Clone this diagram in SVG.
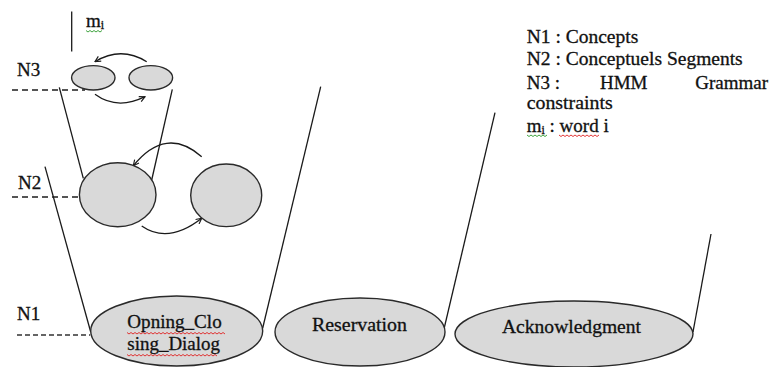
<svg xmlns="http://www.w3.org/2000/svg" width="772" height="367" viewBox="0 0 772 367">
<style>
  text { font-family: "Liberation Serif", "Times New Roman", serif; fill: #111; stroke: #111; stroke-width: 0.3; }
  .lbl { font-size: 19px; }
  .sub { font-size: 12px; }
  .node { fill: #d9d9d9; stroke: #2a2a2a; stroke-width: 1.4; }
  .ln { stroke: #1a1a1a; stroke-width: 1.3; fill: none; }
  .arc { stroke: #1a1a1a; stroke-width: 1.3; fill: none; marker-end: url(#arr); }
  .dashg { stroke: #555; stroke-width: 2; stroke-dasharray: 6 4; fill: none; }
  .dashk { stroke: #333; stroke-width: 1.3; stroke-dasharray: 5 3; fill: none; }
  .sqr { stroke: #e02020; stroke-width: 0.9; fill: none; }
  .sqg { stroke: #2a9a2a; stroke-width: 0.9; fill: none; }
</style>
<defs>
  <marker id="arr" viewBox="0 0 10 10" refX="9" refY="5" markerWidth="7" markerHeight="7" markerUnits="userSpaceOnUse" orient="auto">
    <path d="M1,1 L9,5 L1,9" fill="none" stroke="#1a1a1a" stroke-width="1.6"/>
  </marker>
</defs>

<rect width="772" height="367" fill="#ffffff"/>

<!-- level labels and dashed level lines -->
<g id="levels">
  <text class="lbl" x="17" y="76">N3</text>
  <text class="lbl" x="18" y="189">N2</text>
  <text class="lbl" x="17" y="320">N1</text>
  <line class="dashg" x1="12" y1="90" x2="85" y2="90"/>
  <line class="dashg" x1="12" y1="197" x2="85" y2="197"/>
  <line class="dashk" x1="17" y1="335" x2="90" y2="335"/>
</g>

<!-- word marker m_i -->
<g id="word-marker">
  <line class="ln" x1="71.7" y1="11.5" x2="71.7" y2="51.5"/>
  <text class="lbl" x="86" y="27">m<tspan class="sub" dy="2">i</tspan></text>
  <path class="sqg" d="M86,30.5 l2,1.5 l2,-1.5 l2,1.5 l2,-1.5 l2,1.5 l2,-1.5 l2,1.5 l2,-1.5"/>
</g>

<!-- connectors: funnel lines and transition arcs -->
<g id="connectors">
  <line class="ln" x1="59.3" y1="87.3" x2="83.3" y2="178.3"/>
  <line class="ln" x1="172.3" y1="89.3" x2="151.7" y2="180"/>
  <line class="ln" x1="45" y1="166.7" x2="90.7" y2="332"/>
  <line class="ln" x1="320.7" y1="86.7" x2="262.7" y2="328"/>
  <line class="ln" x1="495" y1="112.7" x2="444" y2="329"/>
  <line class="ln" x1="711" y1="234" x2="693" y2="332"/>
  <path class="arc" d="M146.7,61.7 Q121,45.8 95,61.7"/>
  <path class="arc" d="M95,94.3 Q117,110.5 145,96.7"/>
  <path class="arc" d="M201.7,156.7 Q165.9,125.4 133.3,165.7"/>
  <path class="arc" d="M141.7,226 Q168.3,244.5 201.7,218.3"/>
</g>

<!-- N3 states -->
<g id="n3-state-1"><ellipse class="node" cx="93.3" cy="77.8" rx="21.7" ry="12.2"/></g>
<g id="n3-state-2"><ellipse class="node" cx="150.8" cy="77.8" rx="21.8" ry="12.2"/></g>

<!-- N2 segments -->
<g id="n2-segment-1"><ellipse class="node" cx="117.7" cy="194.7" rx="38.3" ry="32"/></g>
<g id="n2-segment-2"><ellipse class="node" cx="226.2" cy="195.3" rx="35.5" ry="31.3"/></g>

<!-- N1 concepts -->
<g id="concept-opening-closing">
  <ellipse class="node" cx="176.7" cy="331" rx="86" ry="35"/>
  <text class="lbl" x="127.3" y="328" textLength="94.4" lengthAdjust="spacingAndGlyphs">Opning_Clo</text>
  <text class="lbl" x="127.3" y="350" textLength="92.7" lengthAdjust="spacingAndGlyphs">sing_Dialog</text>
  <path class="sqr" d="M127,332.5 l2,1.5 l2,-1.5 l2,1.5 l2,-1.5 l2,1.5 l2,-1.5 l2,1.5 l2,-1.5 l2,1.5 l2,-1.5 l2,1.5 l2,-1.5 l2,1.5 l2,-1.5 l2,1.5 l2,-1.5 l2,1.5 l2,-1.5 l2,1.5 l2,-1.5 l2,1.5 l2,-1.5 l2,1.5 l2,-1.5 l2,1.5 l2,-1.5 l2,1.5 l2,-1.5 l2,1.5 l2,-1.5 l2,1.5 l2,-1.5 l2,1.5 l2,-1.5 l2,1.5 l2,-1.5 l2,1.5 l2,-1.5 l2,1.5 l2,-1.5 l2,1.5 l2,-1.5 l2,1.5 l2,-1.5 l2,1.5 l2,-1.5 l2,1.5 l2,-1.5 l2,1.5"/>
  <path class="sqr" d="M127,354.5 l2,1.5 l2,-1.5 l2,1.5 l2,-1.5 l2,1.5 l2,-1.5 l2,1.5 l2,-1.5 l2,1.5 l2,-1.5 l2,1.5 l2,-1.5 l2,1.5 l2,-1.5 l2,1.5 l2,-1.5 l2,1.5 l2,-1.5 l2,1.5 l2,-1.5 l2,1.5 l2,-1.5 l2,1.5 l2,-1.5 l2,1.5 l2,-1.5 l2,1.5 l2,-1.5 l2,1.5 l2,-1.5 l2,1.5 l2,-1.5 l2,1.5 l2,-1.5 l2,1.5 l2,-1.5 l2,1.5 l2,-1.5 l2,1.5 l2,-1.5 l2,1.5 l2,-1.5 l2,1.5 l2,-1.5 l2,1.5"/>
</g>
<g id="concept-reservation">
  <ellipse class="node" cx="360" cy="332" rx="85" ry="34"/>
  <text class="lbl" x="312" y="331" textLength="95" lengthAdjust="spacingAndGlyphs">Reservation</text>
</g>
<g id="concept-acknowledgment">
  <ellipse class="node" cx="574" cy="334" rx="119" ry="33"/>
  <text class="lbl" x="502" y="333" textLength="139" lengthAdjust="spacingAndGlyphs">Acknowledgment</text>
</g>

<!-- legend -->
<g id="legend">
  <text class="lbl" x="526.7" y="43.3" textLength="111.6" lengthAdjust="spacingAndGlyphs">N1 : Concepts</text>
  <text class="lbl" x="526.7" y="65" textLength="216" lengthAdjust="spacingAndGlyphs">N2 : Conceptuels Segments</text>
  <text class="lbl" x="526.7" y="88.5">N3 :</text>
  <text class="lbl" x="600" y="88.5">HMM</text>
  <text class="lbl" x="768" y="88.5" text-anchor="end">Grammar</text>
  <text class="lbl" x="526.7" y="109" textLength="86" lengthAdjust="spacingAndGlyphs">constraints</text>
  <text class="lbl" x="526.7" y="131.7">m<tspan class="sub" dy="2">i</tspan><tspan dy="-2"> : word i</tspan></text>
  <path class="sqg" d="M527,135 l2,1.5 l2,-1.5 l2,1.5 l2,-1.5 l2,1.5 l2,-1.5 l2,1.5 l2,-1.5 l2,1.5 l2,-1.5"/>
  <path class="sqr" d="M559,135 l2,1.5 l2,-1.5 l2,1.5 l2,-1.5 l2,1.5 l2,-1.5 l2,1.5 l2,-1.5 l2,1.5 l2,-1.5 l2,1.5 l2,-1.5 l2,1.5 l2,-1.5 l2,1.5 l2,-1.5 l2,1.5 l2,-1.5 l2,1.5 l2,-1.5"/>
</g>
</svg>
